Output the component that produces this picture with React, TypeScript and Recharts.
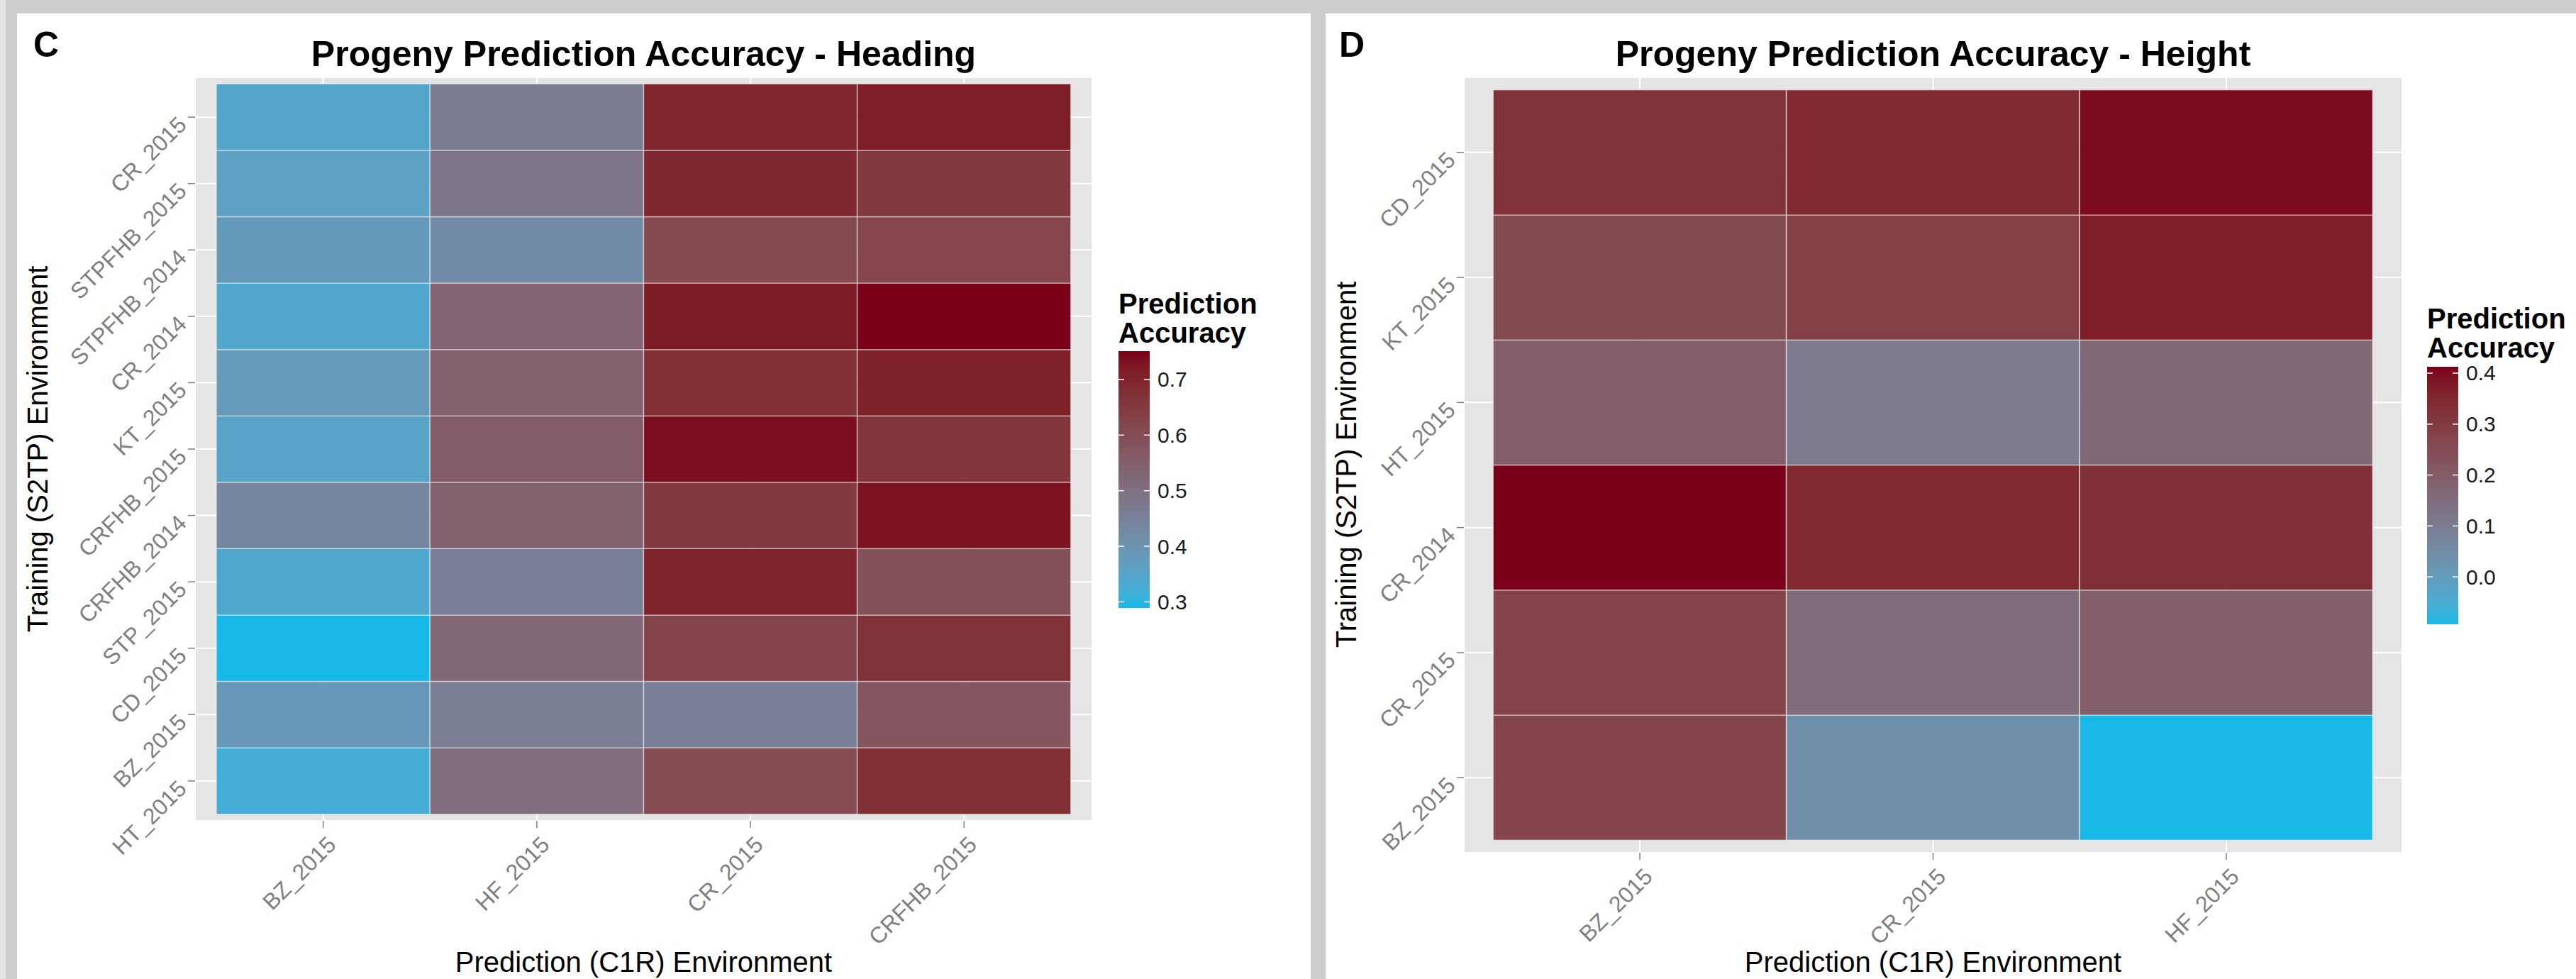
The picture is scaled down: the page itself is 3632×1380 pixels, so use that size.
import React from "react";
import { Bar, BarChart, CartesianGrid, Cell, XAxis, YAxis } from "recharts";

const FONT = '"Liberation Sans", Arial, Helvetica, sans-serif';

// panel C - heading
const headingRows = [
  "CR_2015",
  "STPFHB_2015",
  "STPFHB_2014",
  "CR_2014",
  "KT_2015",
  "CRFHB_2015",
  "CRFHB_2014",
  "STP_2015",
  "CD_2015",
  "BZ_2015",
  "HT_2015",
];
const headingCols = ["BZ_2015", "HF_2015", "CR_2015", "CRFHB_2015"];
const headingValues = [
  [0.345, 0.465, 0.695, 0.712],
  [0.36, 0.485, 0.693, 0.65],
  [0.38, 0.42, 0.61, 0.62],
  [0.34, 0.53, 0.718, 0.751],
  [0.378, 0.545, 0.675, 0.705],
  [0.352, 0.56, 0.735, 0.66],
  [0.435, 0.54, 0.65, 0.73],
  [0.338, 0.455, 0.7, 0.59],
  [0.289, 0.525, 0.625, 0.67],
  [0.385, 0.46, 0.455, 0.575],
  [0.322, 0.505, 0.605, 0.675],
];
const headingTicks = [0.3, 0.4, 0.5, 0.6, 0.7];

// panel D - height
const heightRows = ["CD_2015", "KT_2015", "HT_2015", "CR_2014", "CR_2015", "BZ_2015"];
const heightCols = ["BZ_2015", "CR_2015", "HF_2015"];
const heightValues = [
  [0.32, 0.345, 0.4],
  [0.255, 0.285, 0.372],
  [0.195, 0.105, 0.16],
  [0.4125, 0.345, 0.33],
  [0.275, 0.15, 0.19],
  [0.272, 0.04, -0.093],
];
const heightTicks = [0.0, 0.1, 0.2, 0.3, 0.4];

const LOW = "#18b9e7";
const HIGH = "#7a0019";

// ---- Lab colour ramp (like scales::seq_gradient_pal) ----
function toLab(hex: string) {
  const c = [1, 3, 5].map((i) => parseInt(hex.slice(i, i + 2), 16) / 255);
  const [r, g, b] = c.map((v) => (v <= 0.04045 ? v / 12.92 : Math.pow((v + 0.055) / 1.055, 2.4)));
  const x = (0.4124 * r + 0.3576 * g + 0.1805 * b) / 0.95047;
  const y = 0.2126 * r + 0.7152 * g + 0.0722 * b;
  const z = (0.0193 * r + 0.1192 * g + 0.9505 * b) / 1.08883;
  const f = (t: number) => (t > 0.008856 ? Math.cbrt(t) : 7.787 * t + 16 / 116);
  const fx = f(x), fy = f(y), fz = f(z);
  return [116 * fy - 16, 500 * (fx - fy), 200 * (fy - fz)];
}

function fromLab([L, a, bb]: number[]) {
  const fy = (L + 16) / 116;
  const fx = fy + a / 500;
  const fz = fy - bb / 200;
  const inv = (t: number) => (t * t * t > 0.008856 ? t * t * t : (t - 16 / 116) / 7.787);
  const x = inv(fx) * 0.95047, y = inv(fy), z = inv(fz) * 1.08883;
  const lin = [
    3.2406 * x - 1.5372 * y - 0.4986 * z,
    -0.9689 * x + 1.8758 * y + 0.0415 * z,
    0.0557 * x - 0.204 * y + 1.057 * z,
  ];
  return (
    "#" +
    lin
      .map((v) => {
        const s = v <= 0.0031308 ? 12.92 * v : 1.055 * Math.pow(v, 1 / 2.4) - 0.055;
        const n = Math.round(Math.min(1, Math.max(0, s)) * 255);
        return n.toString(16).padStart(2, "0");
      })
      .join("")
  );
}

const lowLab = toLab(LOW);
const highLab = toLab(HIGH);

function ramp(t: number) {
  return fromLab(lowLab.map((v, i) => v + (highLab[i] - v) * t));
}

function XTick({ x, y, payload }: any) {
  return (
    <text
      transform={`translate(${x + 12}, ${y + 18}) rotate(-45)`}
      textAnchor="end"
      dominantBaseline="central"
      fill="#7f7f7f"
      fontSize={32}
      fontFamily={FONT}
    >
      {payload.value}
    </text>
  );
}

function YTick({ x, y, label }: any) {
  return (
    <text
      transform={`translate(${x - 8}, ${y + 5}) rotate(-45)`}
      textAnchor="end"
      dominantBaseline="central"
      fill="#7f7f7f"
      fontSize={32}
      fontFamily={FONT}
    >
      {label}
    </text>
  );
}

type HeatmapProps = {
  rows: string[];
  cols: string[];
  values: number[][];
  width: number;
  height: number;
  plot: { left: number; right: number; top: number; bottom: number };
  yAxisWidth: number;
  xAxisHeight: number;
};

function Heatmap({ rows, cols, values, width, height, plot, yAxisWidth, xAxisHeight }: HeatmapProps) {
  const flat = values.flat();
  const min = Math.min(...flat);
  const max = Math.max(...flat);
  const n = rows.length;
  const data = cols.map((col) => {
    const d: Record<string, string | number> = { col };
    rows.forEach((_, i) => (d[`r${i}`] = 1));
    return d;
  });
  const pad = ((plot.right - plot.left) * 0.1) / (cols.length + 0.2);
  const yTicks = rows.map((_, k) => k + 0.5);
  const stackOrder = rows.map((_, k) => n - 1 - k);
  const tickLine = { stroke: "#7f7f7f", strokeWidth: 1.5 };

  return (
    <BarChart
      width={width}
      height={height}
      data={data}
      barCategoryGap={0}
      barGap={0}
      margin={{
        top: plot.top,
        left: plot.left - yAxisWidth,
        right: width - plot.right,
        bottom: height - plot.bottom - xAxisHeight,
      }}
    >
      <CartesianGrid fill="#e5e5e5" stroke="#ffffff" strokeWidth={2} />
      <XAxis
        dataKey="col"
        padding={{ left: pad, right: pad }}
        height={xAxisHeight}
        axisLine={false}
        tickLine={tickLine}
        tickSize={10}
        tickMargin={0}
        interval={0}
        tick={(p: any) => <XTick {...p} />}
      />
      <YAxis
        type="number"
        domain={[-0.1, n + 0.1]}
        ticks={yTicks}
        allowDataOverflow
        width={yAxisWidth}
        axisLine={false}
        tickLine={tickLine}
        tickSize={10}
        tickMargin={0}
        interval={0}
        tick={(p: any) => <YTick {...p} label={rows[n - 1 - Math.round(p.payload.value - 0.5)]} />}
      />
      {stackOrder.map((i) => (
        <Bar
          key={rows[i] + i}
          dataKey={`r${i}`}
          stackId="tiles"
          isAnimationActive={false}
          stroke="rgba(255,255,255,0.45)"
          strokeWidth={1.5}
        >
          {cols.map((c, j) => (
            <Cell key={c} fill={ramp((values[i][j] - min) / (max - min))} />
          ))}
        </Bar>
      ))}
    </BarChart>
  );
}

type LegendProps = {
  id: string;
  x: number;
  titleBaselines: number[];
  barTop: number;
  barBottom: number;
  ticks: number[];
  values: number[][];
};

function ColorLegend({ id, x, titleBaselines, barTop, barBottom, ticks, values }: LegendProps) {
  const flat = values.flat();
  const min = Math.min(...flat);
  const max = Math.max(...flat);
  const barW = 44;
  const stops = Array.from({ length: 21 }, (_, k) => k / 20);
  const yOf = (v: number) => barBottom - ((v - min) / (max - min)) * (barBottom - barTop);
  return (
    <g fontFamily={FONT}>
      <defs>
        <linearGradient id={id} x1="0" y1="1" x2="0" y2="0">
          {stops.map((s) => (
            <stop key={s} offset={s} stopColor={ramp(s)} />
          ))}
        </linearGradient>
      </defs>
      <text x={x} y={titleBaselines[0]} fontSize={40} fontWeight="bold" fill="#000">
        Prediction
      </text>
      <text x={x} y={titleBaselines[1]} fontSize={40} fontWeight="bold" fill="#000">
        Accuracy
      </text>
      <rect x={x} y={barTop} width={barW} height={barBottom - barTop} fill={`url(#${id})`} />
      {ticks.map((t) => (
        <g key={t}>
          <line x1={x} x2={x + 8} y1={yOf(t)} y2={yOf(t)} stroke="#ffffff" strokeWidth={1.5} />
          <line x1={x + barW - 8} x2={x + barW} y1={yOf(t)} y2={yOf(t)} stroke="#ffffff" strokeWidth={1.5} />
          <text x={x + barW + 11} y={yOf(t)} dominantBaseline="central" fontSize={30} fill="#1a1a1a">
            {t.toFixed(1)}
          </text>
        </g>
      ))}
    </g>
  );
}

export default function App() {
  return (
    <div
      style={{
        position: "relative",
        width: 3632,
        height: 1380,
        background: "#cccccc",
        overflow: "hidden",
        fontFamily: FONT,
      }}
    >
      <style>{`body{margin:0}`}</style>
      <div style={{ position: "absolute", left: 0, top: 0, width: 8, height: 1380, background: "#e4e4e4" }} />
      <div style={{ position: "absolute", left: 24, top: 19, width: 1824, height: 1361, background: "#ffffff" }} />
      <div style={{ position: "absolute", left: 1869, top: 19, width: 1763, height: 1361, background: "#ffffff" }} />

      <div style={{ position: "absolute", left: 0, top: 0 }}>
        <Heatmap
          rows={headingRows}
          cols={headingCols}
          values={headingValues}
          width={1848}
          height={1380}
          plot={{ left: 275, right: 1540, top: 109, bottom: 1157 }}
          yAxisWidth={220}
          xAxisHeight={200}
        />
      </div>
      <div style={{ position: "absolute", left: 1869, top: 0 }}>
        <Heatmap
          rows={heightRows}
          cols={heightCols}
          values={heightValues}
          width={1763}
          height={1380}
          plot={{ left: 195, right: 1518, top: 109, bottom: 1202 }}
          yAxisWidth={160}
          xAxisHeight={160}
        />
      </div>

      <svg
        width={3632}
        height={1380}
        style={{ position: "absolute", left: 0, top: 0, pointerEvents: "none" }}
        fontFamily={FONT}
      >
        {/* panel C */}
        <text x={47} y={80} fontSize={50} fontWeight="bold">C</text>
        <text x={907.5} y={93} fontSize={50} fontWeight="bold" textAnchor="middle">
          Progeny Prediction Accuracy - Heading
        </text>
        <text transform="translate(67, 633) rotate(-90)" fontSize={40} textAnchor="middle">
          Training (S2TP) Environment
        </text>
        <text x={907.5} y={1370} fontSize={40} textAnchor="middle">
          Prediction (C1R) Environment
        </text>
        <ColorLegend
          id="gradC"
          x={1577}
          titleBaselines={[442, 483]}
          barTop={495}
          barBottom={857}
          ticks={headingTicks}
          values={headingValues}
        />

        {/* panel D */}
        <text x={1888} y={80} fontSize={50} fontWeight="bold">D</text>
        <text x={2725.5} y={93} fontSize={50} fontWeight="bold" textAnchor="middle">
          Progeny Prediction Accuracy - Height
        </text>
        <text transform="translate(1912, 655) rotate(-90)" fontSize={40} textAnchor="middle">
          Training (S2TP) Environment
        </text>
        <text x={2725.5} y={1370} fontSize={40} textAnchor="middle">
          Prediction (C1R) Environment
        </text>
        <ColorLegend
          id="gradD"
          x={3422}
          titleBaselines={[463, 504]}
          barTop={517}
          barBottom={880}
          ticks={heightTicks}
          values={heightValues}
        />
      </svg>
    </div>
  );
}
